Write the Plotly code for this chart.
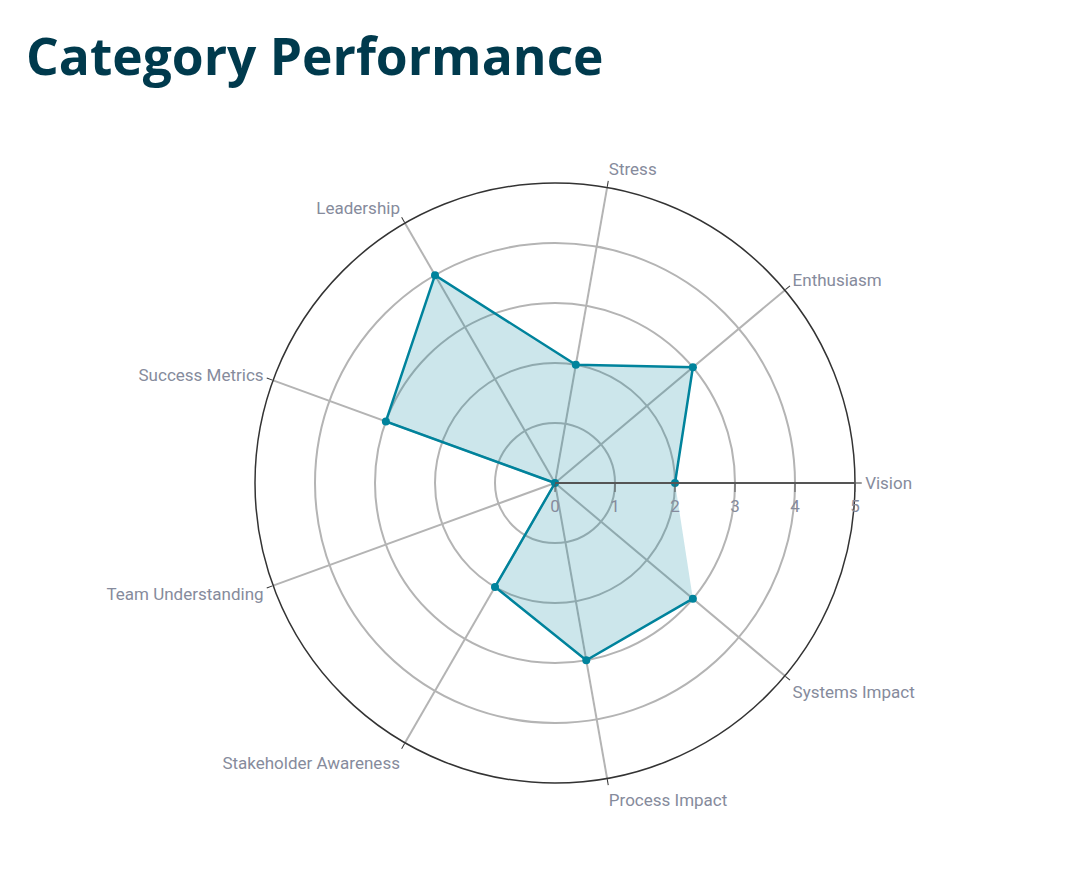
import plotly.graph_objects as go

categories = ["Vision", "Enthusiasm", "Stress", "Leadership", "Success Metrics",
              "Team Understanding", "Stakeholder Awareness", "Process Impact", "Systems Impact"]
values = [2, 3, 2, 4, 3, 0, 2, 3, 3]
radial_ticks = [0, 1, 2, 3, 4, 5]

W, H = 1087, 869
off = 8  # page body margin
cx, cy, R = 555 - off, 483 - off, 300

fig = go.Figure()
fig.add_trace(go.Scatterpolar(
    r=values, theta=categories, mode="lines+markers", fill="toself",
    fillcolor="rgba(0,131,156,0.2)",
    line=dict(color="#00839c", width=2.5),
    marker=dict(color="#00839c", size=8),
    hoverinfo="skip", showlegend=False,
))

fig.update_layout(
    width=W, height=H,
    margin=dict(l=0, r=0, t=0, b=0),
    paper_bgcolor="white", plot_bgcolor="white",
    font=dict(family="Roboto, sans-serif", size=17, color="#868b9c"),
    polar=dict(
        domain=dict(x=[(cx - R) / W, (cx + R) / W], y=[(H - cy - R) / H, (H - cy + R) / H]),
        bgcolor="white",
        radialaxis=dict(range=[0, 5], tickvals=radial_ticks, angle=0, tickangle=0,
                        showline=True, linecolor="#555555", linewidth=2,
                        ticks="outside", ticklen=8, tickcolor="#555555",
                        gridcolor="#b4b4b4", gridwidth=1.5,
                        tickfont=dict(size=17, color="#868b9c")),
        angularaxis=dict(direction="counterclockwise", rotation=0,
                         showline=True, linecolor="#333333", linewidth=1.5,
                         ticks="outside", ticklen=6, tickcolor="#333333",
                         gridcolor="#b4b4b4", gridwidth=1.5,
                         tickfont=dict(size=17, color="#868b9c")),
    ),
    annotations=[dict(
        text="<b>Category Performance</b>", x=(24 - off) / W, y=1 - (10) / H,
        xref="paper", yref="paper", xanchor="left", yanchor="top", showarrow=False,
        font=dict(family="Open Sans, sans-serif", size=51.5, color="#003a4d"),
    )],
)

fig.write_html("out.html")
